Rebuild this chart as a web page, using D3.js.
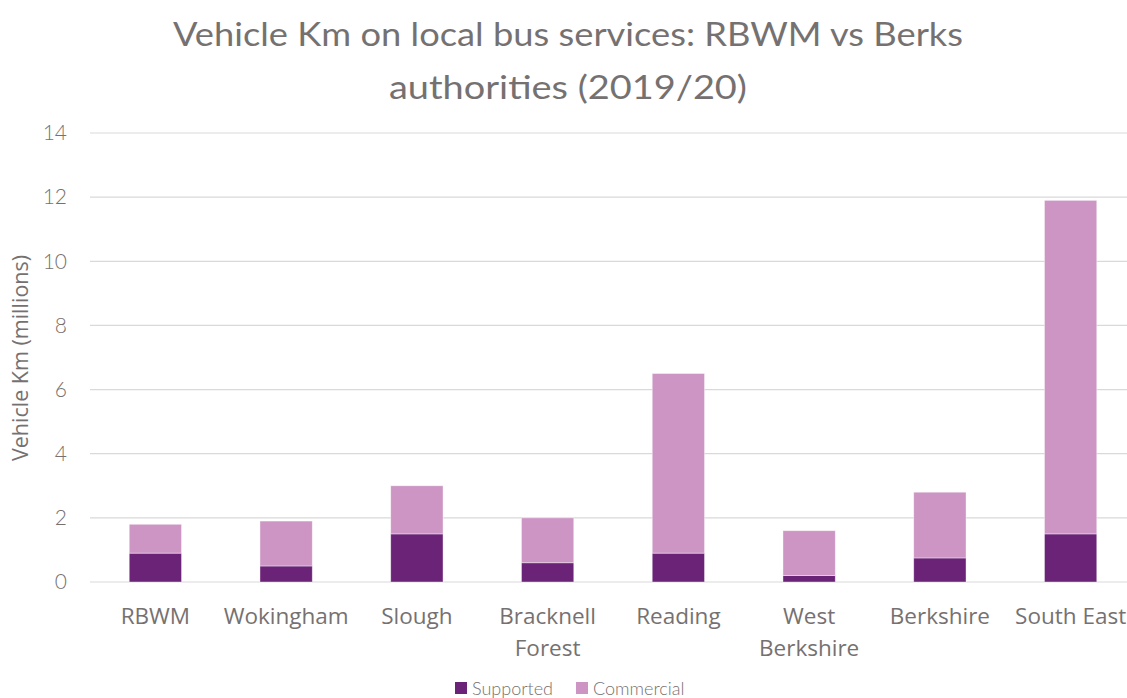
<!DOCTYPE html>
<html>
<head>
<meta charset="utf-8">
<script src="https://cdn.jsdelivr.net/npm/d3@7"></script>
<style>
  html, body { margin: 0; padding: 0; background: #fff; }
  svg { display: block; }
</style>
</head>
<body>
<svg id="chart" width="1127" height="698"></svg>
<script>
// ---- data ----
const categories = ["RBWM", "Wokingham", "Slough", "Bracknell\nForest", "Reading", "West\nBerkshire", "Berkshire", "South East"];
const supported = [0.9, 0.5, 1.5, 0.6, 0.9, 0.2, 0.75, 1.5];
const commercial = [0.9, 1.4, 1.5, 1.4, 5.6, 1.4, 2.05, 10.4];
const seriesNames = ["Supported", "Commercial"];
const yTicks = [0, 2, 4, 6, 8, 10, 12, 14];
const titleLines = ["Vehicle Km on local bus services: RBWM vs Berks", "authorities (2019/20)"];

const colors = { Supported: "#6a2376", Commercial: "#cc95c3" };
const grey = "#767171";
const geoFont = "Lato, 'Open Sans', sans-serif";
const labelFont = "'Open Sans', Lato, sans-serif";

const svg = d3.select("#chart");

// plot frame
const plotL = 90, plotR = 1136, plotT = 133, plotB = 582;

const x = d3.scaleBand().domain(categories).range([plotL, plotR]).paddingInner(0.6).paddingOuter(0.3);
const y = d3.scaleLinear().domain([0, 14]).range([plotB, plotT]);

// ---- gridlines ----
svg.append("g")
  .selectAll("line")
  .data(yTicks)
  .join("line")
  .attr("x1", plotL)
  .attr("x2", 1127)
  .attr("y1", d => y(d))
  .attr("y2", d => y(d))
  .attr("stroke", "#d9d9d9")
  .attr("stroke-width", 1.2);

// ---- y tick labels ----
svg.append("g")
  .selectAll("text")
  .data(yTicks)
  .join("text")
  .attr("x", 67)
  .attr("y", d => y(d))
  .attr("dy", "0.35em")
  .attr("text-anchor", "end")
  .attr("font-family", geoFont)
  .attr("font-weight", 300)
  .attr("font-size", 21)
  .attr("fill", grey)
  .text(d => d);

// ---- stacked bars ----
const rows = categories.map((c, i) => ({ cat: c, Supported: supported[i], Commercial: commercial[i] }));
const stack = d3.stack().keys(seriesNames)(rows);

svg.append("g")
  .selectAll("g")
  .data(stack)
  .join("g")
  .attr("fill", d => colors[d.key])
  .selectAll("rect")
  .data(d => d)
  .join("rect")
  .attr("x", d => x(d.data.cat))
  .attr("width", x.bandwidth())
  .attr("y", d => y(d[1]))
  .attr("height", d => y(d[0]) - y(d[1]))
  .attr("stroke", "#fff")
  .attr("stroke-opacity", 0.5)
  .attr("stroke-width", 0.8);

// ---- category labels ----
svg.append("g")
  .selectAll("text")
  .data(categories)
  .join("text")
  .attr("x", d => x(d) + x.bandwidth() / 2)
  .attr("y", 624)
  .attr("text-anchor", "middle")
  .attr("font-family", labelFont)
  .attr("font-size", 22.5)
  .attr("fill", grey)
  .each(function (d) {
    const t = d3.select(this);
    d.split("\n").forEach((line, i) => {
      t.append("tspan")
        .attr("x", x(d) + x.bandwidth() / 2)
        .attr("dy", i === 0 ? 0 : 32)
        .text(line);
    });
  });

// ---- y axis title ----
svg.append("text")
  .attr("transform", "translate(28,358) rotate(-90)")
  .attr("text-anchor", "middle")
  .attr("font-family", labelFont)
  .attr("font-size", 21.5)
  .attr("fill", grey)
  .text("Vehicle Km (millions)");

// ---- title ----
svg.append("g")
  .selectAll("text")
  .data(titleLines)
  .join("text")
  .attr("x", 568)
  .attr("y", (d, i) => 46 + i * 53)
  .attr("text-anchor", "middle")
  .attr("font-family", geoFont)
  .attr("font-size", 33)
  .attr("fill", grey)
  .attr("textLength", (d, i) => i === 0 ? 790 : 358)
  .attr("lengthAdjust", "spacingAndGlyphs")
  .text(d => d);

// ---- legend ----
const legendX = [455, 576];
const legend = svg.append("g")
  .selectAll("g")
  .data(seriesNames)
  .join("g")
  .attr("transform", (d, i) => `translate(${legendX[i]},682)`);

legend.append("rect")
  .attr("width", 12)
  .attr("height", 12)
  .attr("fill", d => colors[d]);

legend.append("text")
  .attr("x", 17)
  .attr("y", 12.5)
  .attr("font-family", geoFont)
  .attr("font-weight", 300)
  .attr("font-size", 18)
  .attr("fill", grey)
  .text(d => d);
</script>
</body>
</html>
